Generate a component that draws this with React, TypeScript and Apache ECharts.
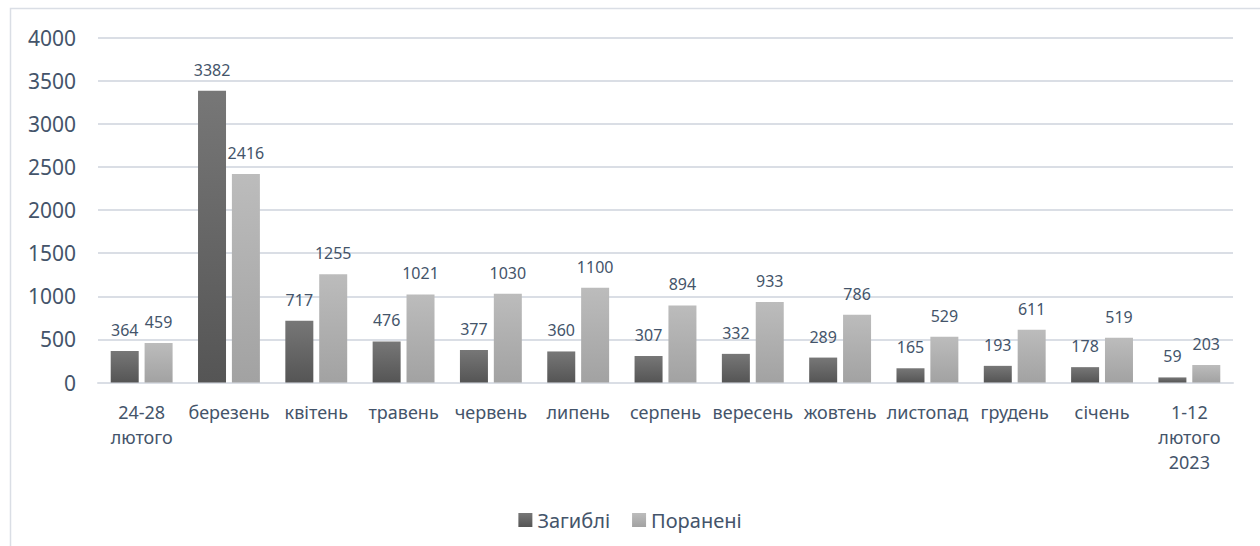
import React, { useEffect, useRef } from "react";
import * as echarts from "echarts";

const categories = [
  "24-28\nлютого",
  "березень",
  "квітень",
  "травень",
  "червень",
  "липень",
  "серпень",
  "вересень",
  "жовтень",
  "листопад",
  "грудень",
  "січень",
  "1-12\nлютого\n2023",
];
const killed = [364, 3382, 717, 476, 377, 360, 307, 332, 289, 165, 193, 178, 59];
const wounded = [459, 2416, 1255, 1021, 1030, 1100, 894, 933, 786, 529, 611, 519, 203];
const seriesNames = ["Загиблі", "Поранені"];

const FONT = "'Noto Sans', 'DejaVu Sans', sans-serif";
const TEXT = "#44546a";
const GRID = "#dadee5";

export default function App() {
  const ref = useRef<HTMLDivElement>(null);
  useEffect(() => {
    if (!ref.current) return;
    const chart = echarts.init(ref.current, undefined, { renderer: "svg" });
    const grad = (a: string, b: string) =>
      new echarts.graphic.LinearGradient(0, 0, 0, 1, [
        { offset: 0, color: a },
        { offset: 1, color: b },
      ]);
    const label = {
      show: true,
      position: "top",
      distance: 13,
      fontSize: 16,
      lineHeight: 16,
      color: TEXT,
      fontFamily: FONT,
    };
    chart.setOption({
      animation: false,
      textStyle: { fontFamily: FONT },
      graphic: [
        {
          type: "rect",
          shape: { x: 10.5, y: 8.5, width: 1300, height: 600 },
          style: { fill: "none", stroke: GRID, lineWidth: 1.5 },
          silent: true,
        },
      ],
      grid: { left: 98, right: 27, top: 37.5, bottom: 163.5, containLabel: false },
      legend: {
        data: seriesNames,
        top: 505,
        left: "center",
        itemWidth: 14,
        itemHeight: 14,
        itemGap: 22,
        icon: "rect",
        textStyle: { fontSize: 20, color: TEXT, fontFamily: FONT },
      },
      xAxis: {
        type: "category",
        data: categories,
        axisLine: { show: true, lineStyle: { color: GRID, width: 2 } },
        axisTick: { show: false },
        axisLabel: {
          interval: 0,
          fontSize: 18,
          lineHeight: 25,
          color: TEXT,
          fontFamily: FONT,
          margin: 17,
        },
      },
      yAxis: {
        type: "value",
        min: 0,
        max: 4000,
        interval: 500,
        axisLine: { show: false },
        axisTick: { show: false },
        splitLine: { lineStyle: { color: GRID, width: 2 } },
        axisLabel: {
          fontSize: 21,
          color: TEXT,
          fontFamily: FONT,
          margin: 22,
          formatter: (v: number) => String(v),
        },
      },
      series: [
        {
          name: seriesNames[0],
          type: "bar",
          data: killed,
          barWidth: 28,
          barGap: "21%",
          itemStyle: { color: grad("#777777", "#555555") },
          label,
        },
        {
          name: seriesNames[1],
          type: "bar",
          data: wounded,
          barWidth: 28,
          barGap: "21%",
          itemStyle: { color: grad("#bcbcbc", "#a2a2a2") },
          label,
        },
      ],
    });
    return () => chart.dispose();
  }, []);
  return (
    <div
      ref={ref}
      style={{ position: "absolute", left: 0, top: 0, width: 1260, height: 546, background: "#fff" }}
    />
  );
}
